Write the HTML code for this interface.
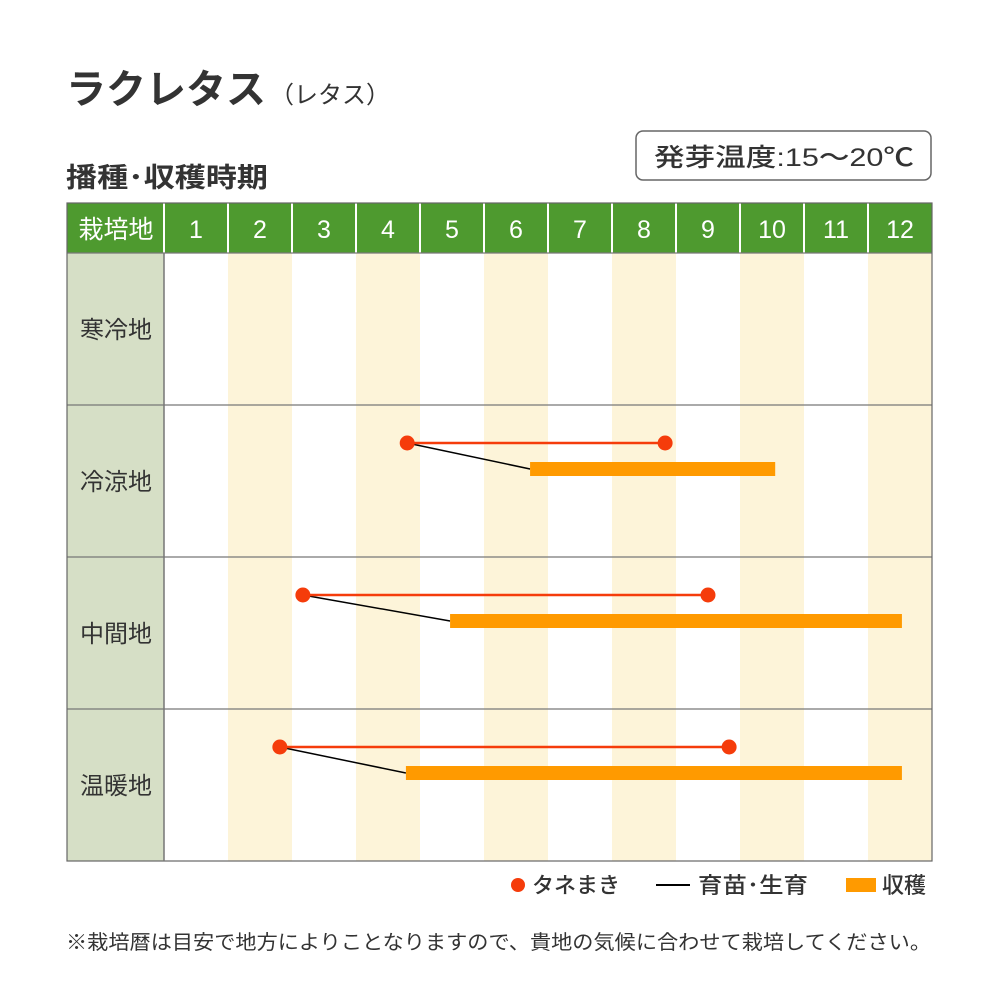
<!DOCTYPE html>
<html><head><meta charset="utf-8"><style>
body{margin:0;background:#fff;font-family:"Liberation Sans","Noto Sans CJK JP",sans-serif;}
</style></head><body>
<svg width="1000" height="1000" viewBox="0 0 1000 1000" style="display:block">
<g id="bg"></g>
<text x="66" y="103" font-size="40" font-weight="bold" fill="#333" font-family="Liberation Sans, Noto Sans CJK JP, sans-serif">ラクレタス<tspan font-size="24" font-weight="normal" dx="4">（レタス）</tspan></text>
<text x="66" y="187" font-size="27" fill="#333" font-weight="bold" textLength="202" lengthAdjust="spacingAndGlyphs" font-family="Liberation Sans, Noto Sans CJK JP, sans-serif">播種･収穫時期</text>
<rect x="636" y="131" width="295" height="49" rx="7" fill="#fff" stroke="#666" stroke-width="1.5"/>
<text x="654" y="166" font-size="25" font-weight="500" fill="#333" textLength="260" lengthAdjust="spacingAndGlyphs" font-family="Liberation Sans, Noto Sans CJK JP, sans-serif">発芽温度:15〜20℃</text>
<g id="grid"></g>
<g id="marks"></g>
<g font-family="Liberation Sans, Noto Sans CJK JP, sans-serif" font-size="22" font-weight="500" fill="#333">
<circle cx="518" cy="885" r="7" fill="#f53c0b"/>
<text x="532" y="893">タネまき</text>
<line x1="656" y1="885" x2="690" y2="885" stroke="#000" stroke-width="2"/>
<text x="698" y="893" textLength="110" lengthAdjust="spacingAndGlyphs">育苗･生育</text>
<rect x="846" y="878" width="30" height="14" fill="#ff9a00"/>
<text x="882" y="893">収穫</text>
</g>
<text x="66" y="949" font-size="20" fill="#333" textLength="865" lengthAdjust="spacingAndGlyphs" font-family="Liberation Sans, Noto Sans CJK JP, sans-serif">※栽培暦は目安で地方によりことなりますので、貴地の気候に合わせて栽培してください。</text>
</svg>
<script>
const months=["1","2","3","4","5","6","7","8","9","10","11","12"];
const regions=["寒冷地","冷涼地","中間地","温暖地"];
const sowStart=[null,3.8,2.17,1.81];
const sowEnd=[null,7.83,8.5,8.83];
const harvestStart=[null,5.72,4.47,3.78];
const harvestEnd=[null,9.55,11.53,11.53];
const NS="http://www.w3.org/2000/svg";
const X0=164,CW=64,Y0=253,RH=152,LEFT=67,RIGHT=932;
const x=v=>X0+v*CW;
const yr=i=>Y0+i*RH;
function mk(t,a,p){const e=document.createElementNS(NS,t);for(const k in a)e.setAttribute(k,a[k]);p.appendChild(e);return e;}
const bg=document.getElementById('bg'),grid=document.getElementById('grid'),marks=document.getElementById('marks');
let h=mk('rect',{x:LEFT,y:203,width:RIGHT-LEFT,height:50,fill:'#4e9a2f'},grid);


let ht=mk('text',{x:116,y:238,'font-size':25,fill:'#fff','text-anchor':'middle'},grid);ht.textContent='栽培地';


months.forEach((m,i)=>{
 const c=mk('rect',{x:x(i),y:Y0,width:CW,height:RH*4,fill:i%2?'#fdf4d9':'#fff'},bg);
 
 
 const l=mk('line',{x1:x(i),y1:203,x2:x(i),y2:Y0,stroke:'#fff','stroke-width':2},grid);
 
 
 const t=mk('text',{x:x(i+0.5),y:238,'font-size':25,fill:'#fff','text-anchor':'middle'},grid);t.textContent=m;
 
 
});
regions.forEach((r,i)=>{
 const c=mk('rect',{x:LEFT,y:yr(i),width:X0-LEFT,height:RH,fill:'#d6dfc6'},bg);
 
 
 const t=mk('text',{x:116,y:yr(i)+RH/2+9,'font-size':24,fill:'#333','text-anchor':'middle'},grid);t.textContent=r;
 
 
 const l=mk('line',{x1:LEFT,y1:yr(i),x2:RIGHT,y2:yr(i),stroke:'#777','stroke-width':1.2},grid);
 
 
 if(sowStart[i]!=null){
  const sy=yr(i)+38,hy=yr(i)+64;
  const bl=mk('line',{x1:x(sowStart[i]),y1:sy,x2:x(harvestStart[i]),y2:hy,stroke:'#000','stroke-width':1.5},marks);
  
  
  const hb=mk('rect',{x:x(harvestStart[i]),y:hy-7,width:x(harvestEnd[i])-x(harvestStart[i]),height:14,fill:'#ff9a00'},marks);
  
  
  const sl=mk('line',{x1:x(sowStart[i]),y1:sy,x2:x(sowEnd[i]),y2:sy,stroke:'#f53c0b','stroke-width':2.5},marks);
  
  
  [sowStart[i],sowEnd[i]].forEach(v=>{const d=mk('circle',{cx:x(v),cy:sy,r:7.5,fill:'#f53c0b'},marks);
   
   });
 }
});
const b=mk('rect',{x:LEFT,y:203,width:RIGHT-LEFT,height:Y0+RH*4-203,fill:'none',stroke:'#666','stroke-width':1.2},grid);


const v=mk('line',{x1:X0,y1:Y0,x2:X0,y2:Y0+RH*4,stroke:'#777','stroke-width':1.5},grid);


</script>
</body></html>
